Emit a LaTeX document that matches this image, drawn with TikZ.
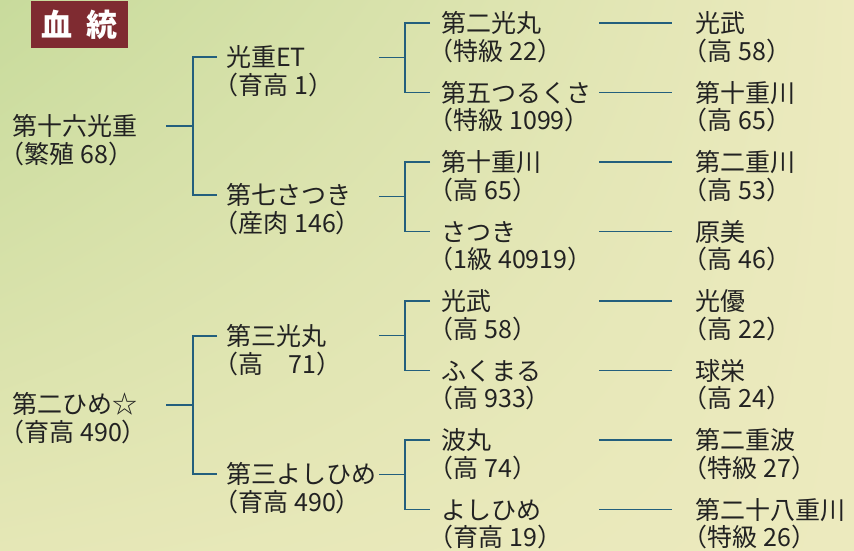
\documentclass[tikz,border=0pt]{standalone}
\usepackage{fontspec}
\setmainfont{Noto Sans CJK JP}[RawFeature=+halt]
\newfontfamily\titlefont{Noto Sans CJK JP}
\usetikzlibrary{positioning,calc,shadings}

\definecolor{bgbase}{RGB}{236,234,190}
\definecolor{bggreen}{RGB}{200,219,156}
\definecolor{bgmid}{RGB}{229,231,182}
\definecolor{linkblue}{RGB}{35,95,125}
\definecolor{titlered}{RGB}{127,43,49}
\definecolor{inkgray}{RGB}{34,34,34}

\begin{document}
\begin{tikzpicture}[x=1pt, y=-1pt,
    horse/.style={anchor=west, inner sep=0pt, text height=22pt, text depth=3pt,
                  font=\fontsize{25}{28}\selectfont, text=inkgray},
    record/.style={horse},
    link/.style={draw=linkblue, line width=1.3pt}]
    \useasboundingbox (0,0) rectangle (854,551);
    \shade [upper left=bggreen, upper right=bgbase, lower left=bgmid, lower right=bgbase]
        (0,0) rectangle (854,551);

    % title
    \node (title) [fill=titlered, text=white, minimum width=97pt, minimum height=47pt, inner sep=0pt]
        at (79.5,24.5) {\titlefont\bfseries\fontsize{31}{31}\selectfont 血\hspace{14pt}統};

    % parents
    \node (c1a) [horse] at (12,126) {第十六光重};
    \node (c1b) [horse] at (12,404) {第二ひめ☆};
    \node (c1ar) [record] at ([yshift=-28pt]c1a.west) {（繁殖 68）};
    \node (c1br) [record] at ([yshift=-28pt]c1b.west) {（育高 490）};

    % grandparents
    \node (c2a) [horse] at (226,57) {光重ET};
    \node (c2b) [horse] at (226,195) {第七さつき};
    \node (c2c) [horse] at (226,336) {第三光丸};
    \node (c2d) [horse] at (226,474) {第三よしひめ};
    \node (c2ar) [record] at ([yshift=-28pt]c2a.west) {（育高 1）};
    \node (c2br) [record] at ([yshift=-28pt]c2b.west) {（産肉 146）};
    \node (c2cr) [record] at ([yshift=-28pt]c2c.west) {（高　71）};
    \node (c2dr) [record] at ([yshift=-28pt]c2d.west) {（育高 490）};

    % great-grandparents
    \foreach \i/\y/\n/\r in {a/23/第二光丸/（特級 22）, b/92.5/第五つるくさ/（特級 1099）,
                            c/162/第十重川/（高 65）, d/231.5/さつき/（1級 40919）,
                            e/301/光武/（高 58）, f/370.5/ふくまる/（高 933）,
                            g/440/波丸/（高 74）, h/509.5/よしひめ/（育高 19）}{
        \node (c3\i) [horse] at (441,\y) {\n};
        \node (c3\i r) [record] at ([yshift=-27.5pt]c3\i.west) {\r};
    }

    % their sires
    \foreach \i/\y/\n/\r in {a/23/光武/（高 58）, b/92.5/第十重川/（高 65）,
                            c/162/第二重川/（高 53）, d/231.5/原美/（高 46）,
                            e/301/光優/（高 22）, f/370.5/球栄/（高 24）,
                            g/440/第二重波/（特級 27）, h/509.5/第二十八重川/（特級 26）}{
        \node (c4\i) [horse] at (695,\y) {\n};
        \node (c4\i r) [record] at ([yshift=-27.5pt]c4\i.west) {\r};
        \draw [link] ([xshift=158pt]c3\i.west) -- ([xshift=-23pt]c4\i.west);
    }

    % brackets
    \foreach \u/\l in {c2a/c2b, c2c/c2d}{
        \draw [link] ([xshift=-9pt]\u.west) -- ++(-24,0) |- ([xshift=-9pt]\l.west);
        \draw [link] ($(\u.west)!0.5!(\l.west)$) ++(-33,0) -- ++(-27,0);
    }
    \foreach \u/\l in {c3a/c3b, c3c/c3d, c3e/c3f, c3g/c3h}{
        \draw [link] ([xshift=-11pt]\u.west) -- ++(-25,0) |- ([xshift=-11pt]\l.west);
        \draw [link] ($(\u.west)!0.5!(\l.west)$) ++(-36,0) -- ++(-26,0);
    }
\end{tikzpicture}
\end{document}
